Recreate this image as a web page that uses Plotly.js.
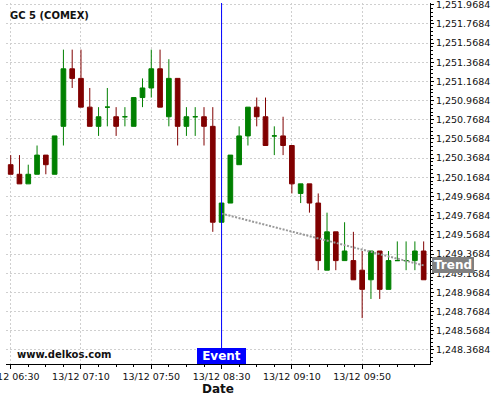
<!DOCTYPE html>
<html>
<head>
<meta charset="utf-8">
<script src="https://cdn.plot.ly/plotly-3.0.1.min.js"></script>
<style>html,body{margin:0;padding:0;background:#fff;}#chart{width:500px;height:400px;}</style>
</head>
<body>
<div id="chart"></div>
<script>
var day = '2018-12-13 ';
var times = ['06:30','06:35','06:40','06:45','06:50','06:55',
  '07:00','07:05','07:10','07:15','07:20','07:25','07:30','07:35','07:40','07:45','07:50','07:55',
  '08:00','08:05','08:10','08:15','08:20','08:25','08:30','08:35','08:40','08:45','08:50','08:55',
  '09:00','09:05','09:10','09:15','09:20','09:25','09:30','09:35','09:40','09:45','09:50','09:55',
  '10:00','10:05','10:10','10:15','10:20','10:25'];
var openP  = [1250.3,1250.2,1250.1,1250.2,1250.4,1250.2,1250.7,1251.3,1251.2,1250.9,1250.7,1250.9,1250.8,1250.8,1250.7,1251.0,1251.1,1251.3,1250.8,1251.2,1250.7,1250.8,1250.8,1250.7,1249.7,1249.9,1250.3,1250.6,1250.9,1250.8,1250.6,1250.6,1250.5,1250.0,1250.1,1249.9,1249.2,1249.6,1249.3,1249.3,1249.2,1249.1,1249.4,1249.0,1249.3,1249.3,1249.3,1249.4];
var highP  = [1250.4,1250.4,1250.3,1250.5,1250.4,1250.6,1251.5,1251.5,1251.5,1251.1,1250.9,1251.1,1250.9,1250.9,1251.0,1251.2,1251.5,1251.5,1251.4,1251.2,1250.9,1250.9,1250.9,1250.9,1249.9,1250.4,1250.7,1250.9,1251.0,1251.0,1250.7,1250.8,1250.5,1250.1,1250.1,1250.0,1249.8,1249.6,1249.7,1249.6,1249.4,1249.4,1249.4,1249.4,1249.5,1249.5,1249.5,1249.5];
var lowP   = [1250.2,1250.1,1250.1,1250.2,1250.2,1250.2,1250.5,1251.1,1250.9,1250.7,1250.6,1250.7,1250.6,1250.7,1250.7,1250.9,1251.0,1250.9,1250.7,1250.5,1250.6,1250.6,1250.5,1249.6,1249.7,1249.9,1250.3,1250.5,1250.7,1250.5,1250.4,1250.4,1250.0,1249.9,1249.8,1249.2,1249.2,1249.2,1249.3,1249.1,1248.7,1248.9,1248.9,1249.0,1249.3,1249.2,1249.2,1249.1];
var closeP = [1250.2,1250.1,1250.2,1250.4,1250.3,1250.6,1251.3,1251.2,1250.9,1250.7,1250.8,1250.9,1250.7,1250.8,1251.0,1251.1,1251.3,1250.9,1251.2,1250.7,1250.8,1250.8,1250.7,1249.7,1249.9,1250.4,1250.6,1250.9,1250.8,1250.5,1250.6,1250.5,1250.1,1250.1,1249.9,1249.3,1249.6,1249.3,1249.4,1249.1,1249.0,1249.4,1249.0,1249.3,1249.3,1249.3,1249.4,1249.1];
var eventTime = '08:30';
var trendTimes = ['08:30','10:25'];
var trendValues = [1249.79, 1249.25];
var titleText = 'GC 5 (COMEX)';
var sourceText = 'www.delkos.com';

var FONT = 'DejaVu Sans';
var x = times.map(function(t){return day + t;});

var candles = {
  type: 'candlestick', x: x, open: openP, high: highP, low: lowP, close: closeP,
  increasing: {line: {color: '#008000', width: 1}, fillcolor: '#008000'},
  decreasing: {line: {color: '#800000', width: 1}, fillcolor: '#800000'},
  whiskerwidth: 0, hoverinfo: 'skip', showlegend: false
};
var trend = {
  type: 'scatter', mode: 'lines', x: trendTimes.map(function(t){return day + t;}), y: trendValues,
  line: {color: '#999999', width: 2, dash: '2px,1.5px'}, hoverinfo: 'skip', showlegend: false
};

var gridCol = '#cfcfcf';
var layout = {
  width: 500, height: 400,
  margin: {l: 6, r: 70, t: 3, b: 36},
  paper_bgcolor: '#fff', plot_bgcolor: '#fff',
  font: {family: FONT, color: '#111', size: 9.5},
  showlegend: false, boxgap: 0.24,
  title: {text: titleText, font: {family: FONT, size: 10, weight: 'bold', color: '#111'},
          xref: 'container', x: 0.02, xanchor: 'left', yref: 'container', y: 0.9625, yanchor: 'middle'},
  xaxis: {
    type: 'date', range: [day + '06:27:20', day + '10:28:36'],
    tick0: day + '06:30', dtick: 2400000, tickformat: '%d/%m %H:%M',
    ticks: 'outside', ticklen: 4, tickcolor: '#000', ticklabeloverflow: 'allow',
    showline: true, linecolor: '#000', linewidth: 1,
    showgrid: true, gridcolor: gridCol, griddash: '2px,2px', gridwidth: 1,
    zeroline: false, rangeslider: {visible: false}, fixedrange: true,
    tickfont: {family: FONT, size: 9.5, color: '#111'},
    minor: {dtick: 600000, ticks: 'outside', ticklen: 2, tickcolor: '#000', showgrid: false},
    title: {text: 'Date', font: {family: FONT, size: 12, weight: 'bold', color: '#111'}, standoff: 2}
  },
  yaxis: {
    side: 'right', range: [1248.2218, 1251.986],
    tick0: 1248.3684, dtick: 0.2, tickformat: ',.4f',
    ticks: 'outside', ticklen: 3, tickcolor: '#000', ticklabeloverflow: 'allow',
    showline: true, linecolor: '#000', linewidth: 1,
    showgrid: true, gridcolor: gridCol, griddash: '2px,2px', gridwidth: 1,
    zeroline: false, fixedrange: true,
    tickfont: {family: FONT, size: 9.5, color: '#111'},
    minor: {dtick: 0.04, tick0: 1248.3684, ticks: 'outside', ticklen: 2, tickcolor: '#000', showgrid: false}
  },
  shapes: [{
    type: 'line', xref: 'x', yref: 'paper', x0: day + eventTime, x1: day + eventTime, y0: 0, y1: 1,
    line: {color: '#0000ff', width: 1}, layer: 'above'
  }],
  annotations: [
    {xref: 'x', yref: 'paper', x: day + eventTime, y: 0, xanchor: 'center', yanchor: 'bottom',
     text: 'Event', showarrow: false, bgcolor: '#0000ff', borderwidth: 0, borderpad: 1,
     width: 47, height: 14, font: {family: FONT, size: 12, weight: 'bold', color: '#fff'}},
    {xref: 'paper', yref: 'y', x: 1, y: trendValues[1], xanchor: 'left', yanchor: 'middle', xshift: 2,
     text: 'Trend', showarrow: false, bgcolor: '#808080', borderwidth: 0, borderpad: 1,
     width: 40, height: 14, font: {family: FONT, size: 12, weight: 'bold', color: '#fff'}},
    {xref: 'paper', yref: 'paper', x: 0.0212, y: 0.0277, xanchor: 'left', yanchor: 'middle',
     text: sourceText, showarrow: false, font: {family: FONT, size: 10, weight: 'bold', color: '#111'}}
  ]
};

Plotly.newPlot('chart', [candles, trend], layout, {staticPlot: true, displayModeBar: false});
</script>
</body>
</html>
